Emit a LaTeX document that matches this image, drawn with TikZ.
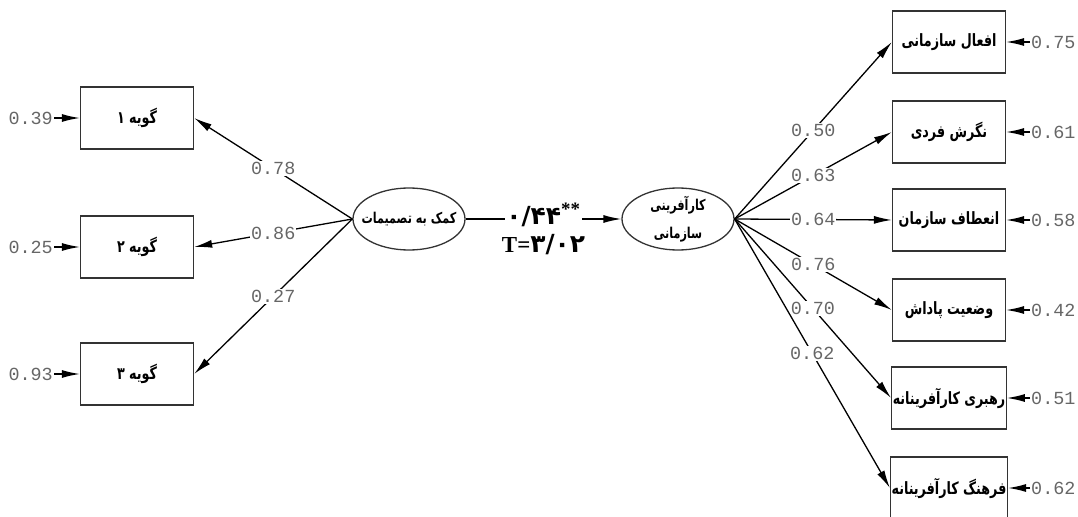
\documentclass[tikz,border=0pt]{standalone}
\usepackage{fontspec}
\TeXXeTstate=1
\newfontfamily\farsi[Script=Arabic,FakeStretch=0.75]{DejaVu Sans}
\newfontfamily\farsinum[Script=Arabic]{DejaVu Sans}
\newfontfamily\monofont{Liberation Mono}
\newfontfamily\seriffont{Liberation Serif}
\usetikzlibrary{arrows.meta,shapes.geometric}
\newcommand{\fa}[1]{\beginR #1\endR}

\begin{document}
\begin{tikzpicture}[x=1bp,y=-1bp,
	obs/.style={draw=black!80,line width=1.3bp,minimum width=113bp,minimum height=62bp,inner sep=1bp,font=\farsi\bfseries\fontsize{17}{19}\selectfont},
	latent/.style={ellipse,draw=black!80,line width=1.3bp,minimum width=112bp,minimum height=62bp,inner xsep=-12bp,inner ysep=-3bp,align=center,font=\farsi\bfseries\fontsize{15}{28}\selectfont},
	coef/.style={fill=white,inner sep=1bp,text=black!60,font=\monofont\fontsize{18.5}{18.5}\selectfont},
	errlab/.style={inner sep=1bp,text=black!60,font=\monofont\fontsize{18.5}{18.5}\selectfont},
	arr/.style={-{Latex[length=18bp,width=8bp]},line width=1.3bp}]
	\useasboundingbox (0,0) rectangle (1078,517);
	% latent variables
	\node[latent] (cmk) at (409,219) {\fa{کمک به تصمیمات}};
	\node[latent] (kar) at (678,219) {\fa{کارآفرینی}\\\fa{سازمانی}};
	% items
	\node[obs] (g1) at (137,118) {\fa{گویه ۱}};
	\node[obs] (g2) at (137,247) {\fa{گویه ۲}};
	\node[obs] (g3) at (137,374) {\fa{گویه ۳}};
	\node[obs] (r1) at (949,42) {\fa{افعال سازمانی}};
	\node[obs] (r2) at (949,132) {\fa{نگرش فردی}};
	\node[obs] (r3) at (949,220) {\fa{انعطاف سازمان}};
	\node[obs] (r4) at (949,310) {\fa{وضعیت پاداش}};
	\node[obs] (r5) at (949,398) {\fa{رهبری کارآفرینانه}};
	\node[obs] (r6) at (949,488) {\fa{فرهنگ کارآفرینانه}};
	% errors
	\node[errlab,anchor=east] (e1) at (54,118) {0.39};
	\node[errlab,anchor=east] (e2) at (54,247) {0.25};
	\node[errlab,anchor=east] (e3) at (54,374) {0.93};
	\node[errlab,anchor=west] (d1) at (1030,42) {0.75};
	\node[errlab,anchor=west] (d2) at (1030,132) {0.61};
	\node[errlab,anchor=west] (d3) at (1030,220) {0.58};
	\node[errlab,anchor=west] (d4) at (1030,310) {0.42};
	\node[errlab,anchor=west] (d5) at (1030,398) {0.51};
	\node[errlab,anchor=west] (d6) at (1030,488) {0.62};
	\foreach \i in {1,2,3} {\draw[arr] (e\i) -- (g\i);}
	\foreach \i in {1,...,6} {\draw[arr] (d\i) -- (r\i);}
	% loadings
	\draw[arr] (cmk.west) -- node[coef] {0.78} (g1.east);
	\draw[arr] (cmk.west) -- node[coef] {0.86} (g2.east);
	\draw[arr] (cmk.west) -- node[coef] {0.27} (g3.east);
	\foreach \i/\v in {1/0.50,2/0.63,3/0.64,4/0.76,5/0.70,6/0.62}
		{\draw[arr] (kar.east) -- node[coef] {\v} (r\i.west);}
	% path
	\draw[arr] (cmk.east) -- node[fill=white,inner sep=1bp,yshift=4bp] (beta) {\farsinum\bfseries\fontsize{25}{25}\selectfont ۰/۴۴\textsuperscript{\seriffont\bfseries\fontsize{19}{19}\selectfont **}}
		node[inner sep=1bp,yshift=-26bp] (tval) {\seriffont\bfseries\fontsize{23}{23}\selectfont T=\farsinum\fontsize{25}{25}\selectfont ۳/۰۲} (kar.west);
\end{tikzpicture}
\end{document}
